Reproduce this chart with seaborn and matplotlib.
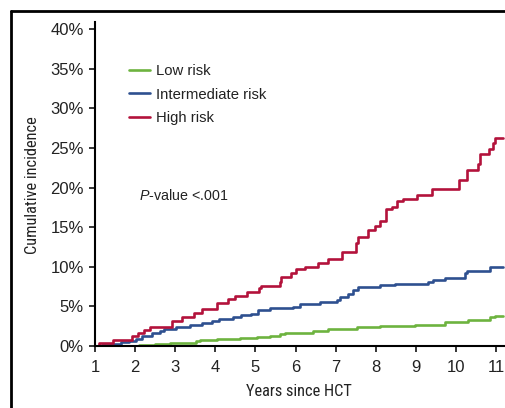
import matplotlib
matplotlib.use("Agg")
import matplotlib.pyplot as plt
import seaborn as sns
import pandas as pd
from matplotlib.lines import Line2D

# ---- data ----
groups = ["Low risk", "Intermediate risk", "High risk"]
colors = ["#6db33f", "#2e5090", "#b3123b"]

low_t = [1.0, 2.1, 2.5, 2.86, 3.53, 3.61, 4.03, 4.61, 5.03, 5.36, 5.61, 5.73, 6.11, 6.43,
         6.81, 7.18, 7.53, 8.11, 8.98, 9.73, 10.31, 10.86, 10.98, 11.18]
low_v = [0.0, 0.1, 0.2, 0.4, 0.6, 0.75, 0.9, 1.0, 1.17, 1.3, 1.47, 1.6, 1.7, 1.9,
         2.1, 2.2, 2.4, 2.5, 2.7, 3.06, 3.3, 3.6, 3.8, 3.8]

int_t = [1.0, 1.18, 1.4, 1.65, 1.86, 2.01, 2.18, 2.43, 2.61, 2.73, 3.03, 3.36, 3.68, 3.93,
         4.08, 4.43, 4.65, 4.9, 5.06, 5.36, 5.93, 6.11, 6.61, 7.03, 7.11, 7.31, 7.43, 7.56,
         7.73, 8.11, 8.48, 9.31, 9.43, 9.73, 10.23, 10.28, 10.86, 11.18]
int_v = [0.0, 0.1, 0.3, 0.5, 0.6, 0.9, 1.2, 1.6, 1.9, 2.2, 2.4, 2.65, 2.9, 3.1,
         3.4, 3.65, 3.9, 4.1, 4.5, 4.8, 4.95, 5.3, 5.6, 5.8, 6.2, 6.55, 7.05, 7.4,
         7.5, 7.7, 7.8, 8.1, 8.3, 8.55, 9.2, 9.5, 9.95, 9.95]

high_t = [1.0, 1.11, 1.46, 1.93, 2.08, 2.21, 2.38, 2.91, 3.18, 3.46, 3.68, 4.03, 4.31, 4.48,
          4.78, 5.08, 5.15, 5.61, 5.65, 5.9, 6.01, 6.23, 6.56, 6.81, 7.15, 7.52, 7.56, 7.81,
          7.98, 8.11, 8.26, 8.4, 8.53, 8.68, 9.03, 9.4, 10.08, 10.28, 10.56, 10.61, 10.83,
          10.93, 10.98, 11.18]
high_v = [0.0, 0.4, 0.75, 1.2, 1.6, 2.0, 2.4, 3.1, 3.6, 4.2, 4.7, 5.4, 5.9, 6.3,
          6.8, 7.3, 7.55, 8.06, 8.7, 9.2, 9.7, 10.0, 10.5, 11.0, 11.9, 13.0, 13.8, 14.7,
          15.2, 15.8, 17.3, 17.6, 18.3, 18.6, 19.1, 19.8, 20.9, 22.2, 23.0, 24.2, 24.8,
          25.6, 26.2, 26.2]

x_ticks = list(range(1, 12))
y_ticks = [0, 5, 10, 15, 20, 25, 30, 35, 40]
y_ticklabels = ["0%", "5%", "10%", "15%", "20%", "25%", "30%", "35%", "40%"]
x_label = "Years since HCT"
y_label = "Cumulative incidence"
p_text = r"$\mathit{P}$-value <.001"

df = pd.concat([
    pd.DataFrame({"t": low_t, "v": low_v, "group": groups[0]}),
    pd.DataFrame({"t": int_t, "v": int_v, "group": groups[1]}),
    pd.DataFrame({"t": high_t, "v": high_v, "group": groups[2]}),
], ignore_index=True)

# ---- style ----
sns.set_style("ticks")
plt.rcParams["font.family"] = ["Liberation Sans", "DejaVu Sans"]
plt.rcParams["mathtext.fontset"] = "custom"
plt.rcParams["mathtext.rm"] = "Liberation Sans"
plt.rcParams["mathtext.it"] = "Liberation Sans:italic"
cond_family = ["Roboto Condensed", "Archivo Narrow", "Asap Condensed", "Liberation Sans"]

W, H = 505, 408
fig = plt.figure(figsize=(W / 100, H / 100), dpi=100)
x0, x1 = 95, 505
y0, ytop = 346, 22
ax = fig.add_axes([x0 / W, 1 - y0 / H, (x1 - x0) / W, (y0 - ytop) / H])

sns.lineplot(data=df, x="t", y="v", hue="group", hue_order=groups, palette=colors,
             estimator=None, drawstyle="steps-post", linewidth=1.9, ax=ax)

ax.set_xlim(1, 1 + (x1 - x0) / 40.1)
ax.set_ylim(0, (y0 - ytop) / 7.925)
ax.set_xticks(x_ticks)
ax.set_xticklabels([str(t) for t in x_ticks])
ax.set_yticks(y_ticks)
ax.set_yticklabels(y_ticklabels)
ax.set_xlabel("")
ax.set_ylabel("")
ax.tick_params(axis="both", labelsize=12, width=1.1, length=4, color="black", labelcolor="#222222")
ax.tick_params(axis="x", pad=6)
ax.tick_params(axis="y", pad=4)
for s in ["top", "right"]:
    ax.spines[s].set_visible(False)
for s in ["left", "bottom"]:
    ax.spines[s].set_linewidth(1.5)
    ax.spines[s].set_color("black")

handles, labels = ax.get_legend_handles_labels()
ax.legend(handles, labels, loc="upper left", bbox_to_anchor=(129 / W, 1 - 64 / H),
          bbox_transform=fig.transFigure, frameon=False, borderpad=0, borderaxespad=0,
          handlelength=1.4, handletextpad=0.42, labelspacing=0.64, fontsize=10.7,
          labelcolor="#222222")

fig.text(139 / W, 1 - 195 / H, p_text, fontsize=10.3, color="#222222", ha="left", va="center")

fig.text(299 / W, 1 - 392 / H, x_label, fontsize=11.8, ha="center", va="center",
         family=cond_family, color="#222222")
fig.text(33 / W, 1 - 185 / H, y_label, fontsize=11.8, ha="center", va="center", rotation=90,
         family=cond_family, color="#222222")

# figure border (left and top edges visible in the crop)
bx, by = 10.7, 10.7
fig.add_artist(Line2D([bx / W, bx / W], [0, 1 - by / H], transform=fig.transFigure,
                      color="black", linewidth=2.0))
fig.add_artist(Line2D([bx / W, 1], [1 - by / H, 1 - by / H], transform=fig.transFigure,
                      color="black", linewidth=2.0))

fig.savefig("out.png", dpi=100)
